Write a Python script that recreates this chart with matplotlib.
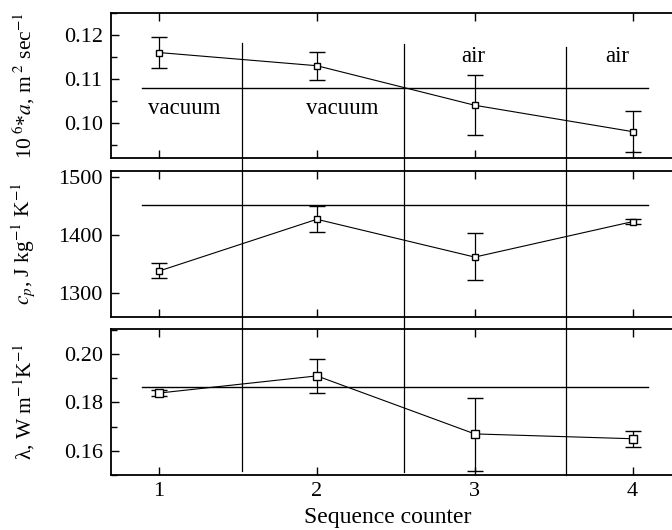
# Thermal properties over the measurement sequence: diffusivity, heat capacity
# and conductivity, one panel each, with vacuum/air sections split by vertical lines.

import matplotlib.pyplot as plt
from matplotlib.lines import Line2D
from matplotlib.ticker import MultipleLocator
from matplotlib.transforms import blended_transform_factory

plt.rcParams["font.family"] = ["Liberation Serif", "DejaVu Serif"]
plt.rcParams["mathtext.fontset"] = "stix"
plt.rcParams["font.size"] = 16

seq = [1, 2, 3, 4]

diff_val = [0.1160, 0.1130, 0.1040, 0.0980]
diff_lo = [0.1125, 0.1097, 0.0973, 0.0934]
diff_hi = [0.1195, 0.1162, 0.1108, 0.1027]
diff_ref = 0.1079

cp_val = [1338, 1427, 1362, 1423]
cp_lo = [1326, 1405, 1322, 1419]
cp_hi = [1351, 1450, 1403, 1428]
cp_ref = 1451

lam_val = [0.1839, 0.1910, 0.1670, 0.1650]
lam_lo = [0.1828, 0.1840, 0.1517, 0.1614]
lam_hi = [0.1850, 0.1980, 0.1820, 0.1684]
lam_ref = 0.1866

ref_x = [0.89, 4.095]
sep_x = [1.525, 2.55, 3.578]
# top/bottom of each separator line, figure pixels from the top
sep_y_px = [(43, 470.7), (44, 471.7), (47, 475)]

labels = [
    ("vacuum", 1.16, 0.1032),
    ("vacuum", 2.16, 0.1032),
    ("air", 2.99, 0.1150),
    ("air", 3.90, 0.1150),
]

W, H = 672, 530
fig = plt.figure(figsize=(W / 100, H / 100), dpi=100)

left = 111 / W
width = 569 / W
panels_px = [(13, 158), (171, 317), (329, 475)]
axes = []
for top_px, bot_px in panels_px:
    ax = fig.add_axes([left, 1 - bot_px / H, width, (bot_px - top_px) / H])
    axes.append(ax)

series = [
    (diff_val, diff_lo, diff_hi, diff_ref, (0.092, 0.125), 0.01, 0.005, True, 5),
    (cp_val, cp_lo, cp_hi, cp_ref, (1259, 1510), 100, None, True, 5),
    (lam_val, lam_lo, lam_hi, lam_ref, (0.150, 0.2104), 0.02, 0.01, False, 6),
]

for ax, (val, lo, hi, ref, ylim, major, minor, dot, msize) in zip(axes, series):
    yerr = [[v - l for v, l in zip(val, lo)], [h - v for v, h in zip(val, hi)]]
    ax.errorbar(
        seq, val, yerr=yerr, color="black", lw=0.8, elinewidth=0.9,
        capsize=6, capthick=0.9, marker="s", markersize=msize,
        markerfacecolor="white", markeredgecolor="black", markeredgewidth=1.0,
    )
    if dot:
        ax.plot(seq, val, ls="none", marker=".", markersize=1.5, color="black")
    ax.plot(ref_x, [ref, ref], color="black", lw=1.0)
    ax.set_xlim(0.696, 4.3)
    ax.set_ylim(*ylim)
    ax.xaxis.set_major_locator(MultipleLocator(1))
    ax.yaxis.set_major_locator(MultipleLocator(major))
    if minor:
        ax.yaxis.set_minor_locator(MultipleLocator(minor))
    ax.tick_params(which="both", direction="in", top=True, right=True, width=1.0)
    ax.tick_params(which="major", length=6)
    ax.tick_params(which="minor", length=4)
    ax.tick_params(axis="y", pad=6)
    ax.tick_params(axis="x", pad=5)
    for sp in ax.spines.values():
        sp.set_linewidth(1.3)
    ax.yaxis.set_label_coords(-0.13, 0.53)

axes[0].yaxis.set_major_formatter(lambda v, p: f"{v:.2f}")
axes[2].yaxis.set_major_formatter(lambda v, p: f"{v:.2f}")
axes[0].tick_params(labelbottom=False)
axes[1].tick_params(labelbottom=False)

axes[0].set_ylabel(r"10$^{\ 6}$*$a$, m$^{\ 2}$ sec$^{-1}$", fontsize=15.5)
axes[1].set_ylabel(r"$c_{p}$, J kg$^{-1}$ K$^{-1}$", fontsize=15.5)
axes[2].set_ylabel(r"λ, W m$^{-1}$K$^{-1}$", fontsize=15.5)

for text, x, y in labels:
    axes[0].text(x, y, text, ha="center", va="center", fontsize=16.5)

axes[2].set_xlabel("Sequence counter", fontsize=17)
axes[2].xaxis.set_label_coords((387.5 - 111) / 569, -0.22)

# separators run through all three panels
trans = blended_transform_factory(axes[0].transData, fig.transFigure)
for x, (y0, y1) in zip(sep_x, sep_y_px):
    fig.add_artist(
        Line2D([x, x], [1 - y0 / H, 1 - y1 / H], transform=trans,
               color="black", lw=0.9)
    )

fig.savefig("out.png", dpi=100)
